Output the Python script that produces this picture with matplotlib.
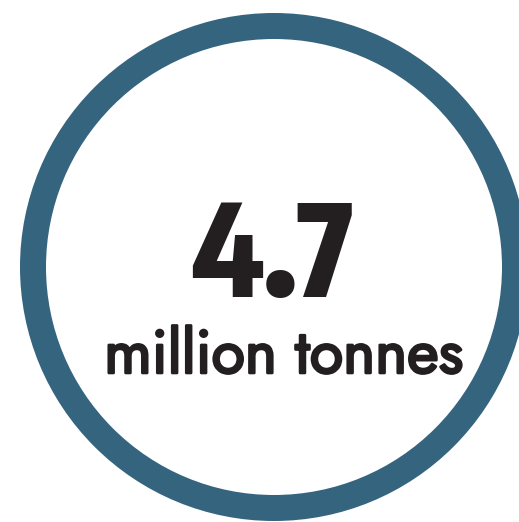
import matplotlib
matplotlib.use('Agg')
import matplotlib.pyplot as plt
from matplotlib.patches import Circle
import matplotlib.patheffects as pe

# the figure shown in the badge
value_label = "4.7"
unit_label = "million tonnes"

ring_color = '#35647f'
text_color = '#231f20'

W, H = 519, 522
fig = plt.figure(figsize=(W / 100, H / 100), dpi=100)
ax = fig.add_axes([0, 0, 1, 1])
ax.set_xlim(0, W)
ax.set_ylim(H, 0)
ax.axis('off')

# ring: centre line radius, width in px
ring = Circle((274, 267), 241, fill=False, edgecolor=ring_color,
              linewidth=26 * 72 / 100)
ax.add_patch(ring)

px = 72 / 100  # px -> pt
ax.text(273, 297, value_label, ha='center', va='baseline',
        fontsize=128 * px, fontweight=800,
        family=['Encode Sans Condensed', 'DejaVu Sans'], color=text_color)
# Jost only ships its regular instance here, so thicken it with a stroke
ax.text(284, 373, unit_label, ha='center', va='baseline',
        fontsize=61 * px, fontweight='bold',
        family=['Jost', 'DejaVu Sans'], color=text_color,
        path_effects=[pe.withStroke(linewidth=2.6 * px, foreground=text_color)])

fig.savefig('out.png', dpi=100)
